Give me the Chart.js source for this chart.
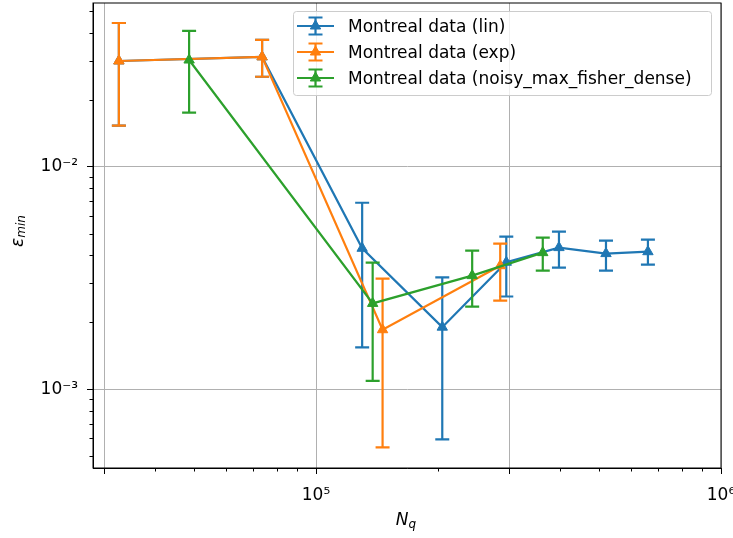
<!DOCTYPE html>
<html>
<head>
<meta charset="utf-8">
<script src="https://cdn.jsdelivr.net/npm/chart.js@4.4.0/dist/chart.umd.min.js"></script>
<style>
  html, body { margin: 0; padding: 0; background: #fff; }
  #wrap { position: relative; width: 733px; height: 538px; }
</style>
</head>
<body>
<div id="wrap"><canvas id="chart" width="733" height="538"></canvas></div>
<script>
// values (log-log plot)
const linX  = [32600, 73600, 130000, 205000, 295000, 398000, 520000, 660000];
const linY  = [0.0299, 0.0312, 0.0043, 0.0019, 0.00372, 0.00433, 0.00407, 0.00415];
const linLo = [0.0153, 0.0254, 0.00154, 0.000594, 0.00261, 0.00352, 0.00341, 0.00363];
const linHi = [0.0443, 0.0372, 0.00689, 0.00318, 0.00485, 0.00511, 0.00465, 0.0047];

const expX  = [32600, 73600, 146000, 285000];
const expY  = [0.0299, 0.0312, 0.00185, 0.00359];
const expLo = [0.0153, 0.0254, 0.000547, 0.0025];
const expHi = [0.0443, 0.0372, 0.00314, 0.00451];

const nmfX  = [48600, 138000, 243000, 363000];
const nmfY  = [0.0302, 0.00243, 0.00324, 0.00411];
const nmfLo = [0.0175, 0.00109, 0.00235, 0.00341];
const nmfHi = [0.0408, 0.00371, 0.0042, 0.0048];

const seriesNames = ['Montreal data (lin)', 'Montreal data (exp)', 'Montreal data (noisy_max_fisher_dense)'];
const seriesColors = ['#1f77b4', '#ff7f0e', '#2ca02c'];

// axis ticks: majors carry grid lines, minors are short marks only
const xMajorVals = [3e4, 1e5, 3e5, 1e6];
const xMinorVals = [4e4, 5e4, 6e4, 7e4, 8e4, 9e4, 2e5, 4e5, 5e5, 6e5, 7e5, 8e5, 9e5];
const xLabelVals = [1e5, 1e6];
const xLabelText = ['10⁵', '10⁶'];
const yMajorVals = [1e-3, 1e-2];
const yMinorVals = [5e-4, 6e-4, 7e-4, 8e-4, 9e-4, 2e-3, 3e-3, 4e-3, 5e-3, 6e-3, 7e-3, 8e-3, 9e-3, 2e-2, 3e-2, 4e-2, 5e-2];
const yLabelVals = [1e-3, 1e-2];
const yLabelText = ['10⁻³', '10⁻²'];

const FONT = '"DejaVu Sans"';

function same(a, b) { return Math.abs(Math.log10(a) - Math.log10(b)) < 1e-6; }
function findIdx(list, v) { return list.findIndex(t => same(t, v)); }

function makeSet(i, xs, ys, lo, hi, order) {
    return {
        label: seriesNames[i],
        data: xs.map((x, k) => ({ x: x, y: ys[k] })),
        errLo: lo,
        errHi: hi,
        borderColor: seriesColors[i],
        backgroundColor: seriesColors[i],
        pointBackgroundColor: seriesColors[i],
        pointBorderColor: seriesColors[i],
        pointStyle: 'triangle',
        pointRadius: 6,
        pointBorderWidth: 1,
        borderWidth: 2.2,
        tension: 0,
        fill: false,
        order: order
    };
}

// error bars drawn just below each series' line
const errorBars = {
    id: 'errorBars',
    beforeDatasetDraw(chart, args) {
        const ds = chart.data.datasets[args.index];
        const xs = chart.scales.x, ys = chart.scales.y;
        const ctx = chart.ctx;
        ctx.save();
        ctx.strokeStyle = ds.borderColor;
        ctx.lineWidth = 2.2;
        ds.data.forEach((p, k) => {
            const px = xs.getPixelForValue(p.x);
            const top = ys.getPixelForValue(ds.errHi[k]);
            const bot = ys.getPixelForValue(ds.errLo[k]);
            ctx.beginPath();
            ctx.moveTo(px, top); ctx.lineTo(px, bot);
            ctx.moveTo(px - 7, top); ctx.lineTo(px + 7, top);
            ctx.moveTo(px - 7, bot); ctx.lineTo(px + 7, bot);
            ctx.stroke();
        });
        ctx.restore();
    }
};

function triangle(ctx, x, y, r) {
    ctx.beginPath();
    ctx.moveTo(x, y - r);
    ctx.lineTo(x + r * 0.866, y + r * 0.5);
    ctx.lineTo(x - r * 0.866, y + r * 0.5);
    ctx.closePath();
    ctx.fill();
    ctx.stroke();
}

// spines, minor ticks, legend box and axis titles
const decor = {
    id: 'decor',
    afterDatasetsDraw(chart) {
        const ctx = chart.ctx, a = chart.chartArea;
        const xs = chart.scales.x, ys = chart.scales.y;
        ctx.save();
        ctx.strokeStyle = '#000';
        ctx.lineWidth = 1;
        ctx.strokeRect(a.left, a.top, a.right - a.left, a.bottom - a.top);
        ctx.beginPath();
        xMinorVals.forEach(v => {
            const px = Math.round(xs.getPixelForValue(v)) + 0.5;
            ctx.moveTo(px, a.bottom); ctx.lineTo(px, a.bottom + 3.5);
        });
        yMinorVals.forEach(v => {
            const py = Math.round(ys.getPixelForValue(v)) + 0.5;
            ctx.moveTo(a.left, py); ctx.lineTo(a.left - 3.5, py);
        });
        ctx.stroke();
        ctx.restore();
    },
    afterDraw(chart) {
        const ctx = chart.ctx, a = chart.chartArea;
        ctx.save();
        // legend
        const bx = 293, by = 11, bw = 418, bh = 84;
        ctx.fillStyle = 'rgba(255,255,255,0.8)';
        ctx.strokeStyle = '#cccccc';
        ctx.lineWidth = 1;
        ctx.beginPath();
        ctx.roundRect(bx + 0.5, by + 0.5, bw, bh, 3);
        ctx.fill();
        ctx.stroke();
        const rows = [26, 52, 78];
        ctx.font = '17px ' + FONT;
        ctx.textBaseline = 'alphabetic';
        seriesNames.forEach((name, i) => {
            const y = rows[i];
            ctx.strokeStyle = seriesColors[i];
            ctx.fillStyle = seriesColors[i];
            ctx.lineWidth = 2.2;
            ctx.beginPath();
            ctx.moveTo(297, y); ctx.lineTo(334, y);
            ctx.moveTo(315.5, y - 8.5); ctx.lineTo(315.5, y + 8.5);
            ctx.moveTo(308.5, y - 8.5); ctx.lineTo(322.5, y - 8.5);
            ctx.moveTo(308.5, y + 8.5); ctx.lineTo(322.5, y + 8.5);
            ctx.stroke();
            ctx.lineWidth = 1;
            triangle(ctx, 315.5, y, 6);
            ctx.fillStyle = '#000';
            ctx.fillText(name, 348, y + 6.3);
        });
        // axis titles (italic with subscripts)
        ctx.fillStyle = '#000';
        const big = 'italic 17px ' + FONT, small = 'italic 12px ' + FONT;
        ctx.font = big; const wN = ctx.measureText('N').width;
        ctx.font = small; const wq = ctx.measureText('q').width;
        let sx = (a.left + a.right) / 2 - (wN + wq) / 2 - 1;
        ctx.font = big; ctx.fillText('N', sx, 525);
        ctx.font = small; ctx.fillText('q', sx + wN, 528);
        ctx.translate(0, 231);
        ctx.rotate(-Math.PI / 2);
        ctx.font = big; const we = ctx.measureText('ε').width;
        ctx.font = small; const wm = ctx.measureText('min').width;
        sx = -(we + wm) / 2;
        ctx.font = big; ctx.fillText('ε', sx, 23);
        ctx.font = small; ctx.fillText('min', sx + we, 25);
        ctx.restore();
    }
};

const ctx = document.getElementById('chart').getContext('2d');
new Chart(ctx, {
    type: 'line',
    data: {
        datasets: [
            makeSet(0, linX, linY, linLo, linHi, 3),
            makeSet(1, expX, expY, expLo, expHi, 2),
            makeSet(2, nmfX, nmfY, nmfLo, nmfHi, 1)
        ]
    },
    options: {
        responsive: false,
        animation: false,
        events: [],
        layout: { autoPadding: false, padding: { left: 0, top: 3, right: 12, bottom: 0 } },
        plugins: { legend: { display: false }, tooltip: { enabled: false } },
        scales: {
            x: {
                type: 'logarithmic',
                min: 28140,
                max: 1e6,
                bounds: 'data',
                afterBuildTicks: s => { s.ticks = xMajorVals.map(v => ({ value: v })); },
                afterFit: s => { s.height = 70; s.paddingLeft = 0; s.paddingRight = 0; },
                ticks: {
                    autoSkip: false,
                    maxRotation: 0,
                    padding: 11,
                    color: '#000',
                    font: { family: 'DejaVu Sans', size: 17 },
                    callback: v => { const i = findIdx(xLabelVals, v); return i >= 0 ? xLabelText[i] : ''; }
                },
                grid: { color: '#b0b0b0', tickColor: '#000', lineWidth: 1, tickLength: 6, drawTicks: true },
                border: { display: true, color: '#000', width: 1 }
            },
            y: {
                type: 'logarithmic',
                min: 4.42e-4,
                max: 0.0545,
                bounds: 'data',
                afterBuildTicks: s => { s.ticks = yMajorVals.map(v => ({ value: v })); },
                afterFit: s => { s.width = 93; s.paddingTop = 0; s.paddingBottom = 0; },
                ticks: {
                    autoSkip: false,
                    padding: 9,
                    color: '#000',
                    font: { family: 'DejaVu Sans', size: 17 },
                    callback: v => { const i = findIdx(yLabelVals, v); return i >= 0 ? yLabelText[i] : ''; }
                },
                grid: { color: '#b0b0b0', tickColor: '#000', lineWidth: 1, tickLength: 6, drawTicks: true },
                border: { display: true, color: '#000', width: 1 }
            }
        }
    },
    plugins: [errorBars, decor]
});
</script>
</body>
</html>
